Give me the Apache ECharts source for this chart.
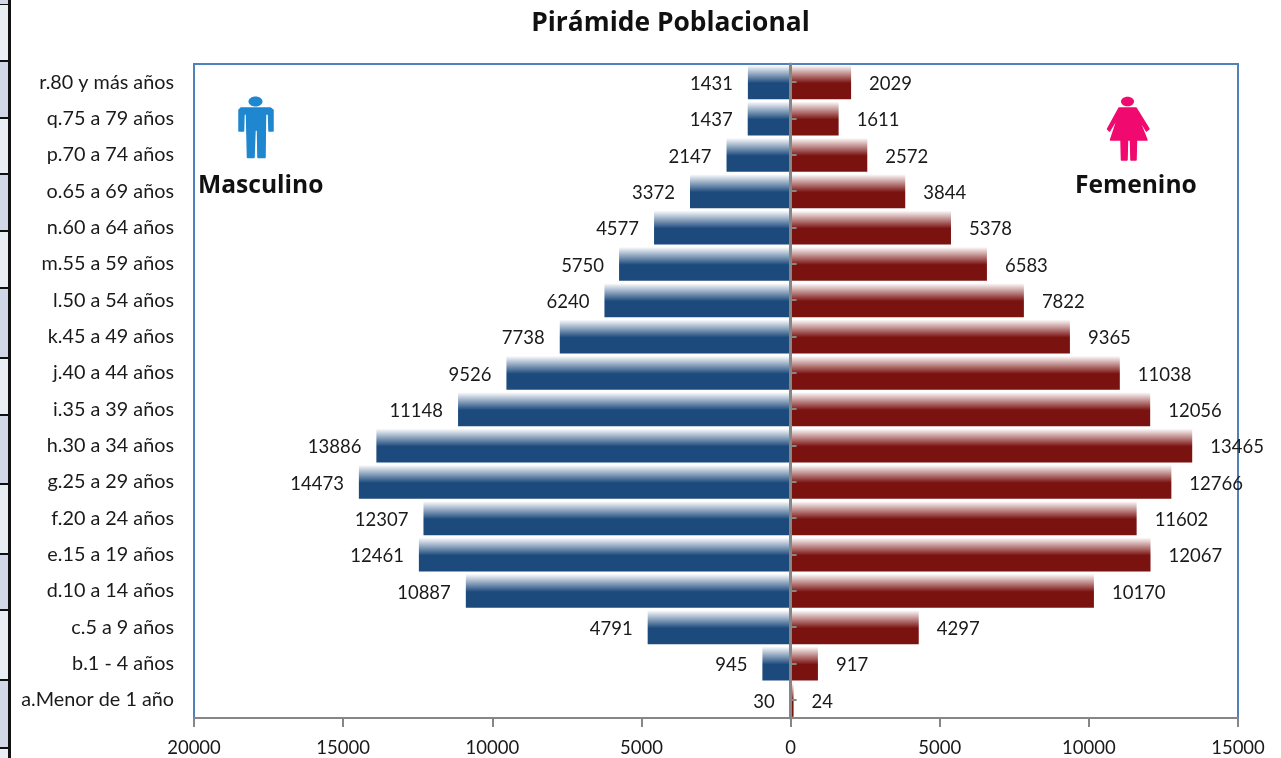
<!DOCTYPE html>
<html><head><meta charset="utf-8">
<style>html,body{margin:0;padding:0;background:#fff}#c{width:1281px;height:758px}</style>
<script src="https://cdn.jsdelivr.net/npm/echarts@6/dist/echarts.min.js"></script>
</head><body><div id="c"></div>
<script>
const categories = ['a.Menor de 1 año','b.1 - 4 años','c.5 a 9 años','d.10 a 14 años','e.15 a 19 años','f.20 a 24 años','g.25 a 29 años','h.30 a 34 años','i.35 a 39 años','j.40 a 44 años','k.45 a 49 años','l.50 a 54 años','m.55 a 59 años','n.60 a 64 años','o.65 a 69 años','p.70 a 74 años','q.75 a 79 años','r.80 y más años'];
const masculino = [30,945,4791,10887,12461,12307,14473,13886,11148,9526,7738,6240,5750,4577,3372,2147,1437,1431];
const femenino = [24,917,4297,10170,12067,11602,12766,13465,12056,11038,9365,7822,6583,5378,3844,2572,1611,2029];
const titleText = 'Pirámide Poblacional';
const font = 'Lato';
const boldFont = '"Open Sans"';
const chart = echarts.init(document.getElementById('c'), null, {renderer:'canvas'});
const grad = c => new echarts.graphic.LinearGradient(0,0,0,1,[{offset:0,color:'#ffffff'},{offset:0.53,color:c},{offset:1,color:c}]);
const abs = p => Math.abs(p.value);
const blue='#1F87CF', pink='#F0096E';
function poly(points,fill){return {type:'polygon',shape:{points},style:{fill,stroke:fill,lineWidth:1.5,lineJoin:'round'},silent:true,z:5};}
const stripEdges=[4,61,118,174,231,288,358,415,484,554,610,680,748,758];
const strip=[];
stripEdges.slice(0,-1).forEach((y,i)=>{
  strip.push({type:'rect',shape:{x:0,y:y,width:8,height:stripEdges[i+1]-y},style:{fill:i%2?'#D0D8E8':'#E9EDF4'},silent:true});
  strip.push({type:'rect',shape:{x:0,y:y-1,width:9,height:2},style:{fill:'#111'},silent:true});
});
strip.push({type:'rect',shape:{x:0,y:0,width:8,height:4},style:{fill:'#D0D8E8'},silent:true});
strip.push({type:'rect',shape:{x:8,y:0,width:3,height:758},style:{fill:'#111'},silent:true});
chart.setOption({
  animation:false,
  backgroundColor:'#fff',
  title:{text:titleText,left:665.5,top:5,textAlign:'center',textStyle:{fontFamily:boldFont,fontSize:26.4,fontWeight:'bold',color:'#111'}},
  grid:{left:194,right:43,top:64,bottom:40,show:true,borderColor:'#4F81BD',borderWidth:2,backgroundColor:'#fff'},
  xAxis:{type:'value',min:-20000,max:15000,interval:5000,position:'bottom',
    splitLine:{show:false},
    axisLine:{show:true,onZero:false,lineStyle:{color:'#868686',width:2}},
    axisTick:{show:true,length:9,lineStyle:{color:'#868686',width:2}},
    axisLabel:{margin:21,fontFamily:font,fontSize:18.5,color:'#1a1a1a',formatter:v=>String(Math.abs(v))}},
  yAxis:[
    {type:'category',data:categories,position:'left',
     axisLine:{show:false,onZero:false},axisTick:{show:false},
     axisLabel:{margin:20,fontFamily:font,fontSize:19.8,color:'#1a1a1a',interval:0,padding:[2,0,0,0]}},
    {type:'category',data:categories,position:'left',z:6,
     axisLine:{show:true,onZero:true,lineStyle:{color:'#868686',width:3}},
     axisTick:{show:true,inside:true,alignWithLabel:true,length:6,lineStyle:{color:'#868686',width:2}},
     axisLabel:{show:false}}
  ],
  series:[
    {name:'Masculino',type:'bar',yAxisIndex:0,data:masculino.map(v=>-v),barWidth:34,barGap:'-100%',
     itemStyle:{color:grad('#1C4A7D')},
     label:{show:true,position:'left',distance:15,offset:[0,2],formatter:abs,fontFamily:font,fontSize:18.5,color:'#1a1a1a'}},
    {name:'Femenino',type:'bar',yAxisIndex:0,data:femenino,barWidth:34,barGap:'-100%',barMinHeight:3,
     itemStyle:{color:grad('#7A1210')},
     label:{show:true,position:'right',distance:18,offset:[0,2],formatter:abs,fontFamily:font,fontSize:18.5,color:'#1a1a1a'}}
  ],
  graphic:[...strip,
    {type:'text',left:198,top:173,z:5,style:{text:'Masculino',font:'bold 24.6px '+boldFont,fill:'#111'}},
    {type:'text',left:1075,top:173,z:5,style:{text:'Femenino',font:'bold 24.6px '+boldFont,fill:'#111'}},
    {type:'ellipse',shape:{cx:255.5,cy:101.5,rx:7,ry:5},style:{fill:blue},silent:true,z:5},
    poly([[241,108],[270.5,108],[273,110],[273,131],[269,131],[268.5,114],[265.5,114],[265,157.5],[258,157.5],[257.5,130],[255,130],[254,157.5],[247.5,157.5],[246.5,114],[244,114],[243.5,131],[239,131],[239,110]],blue),
    {type:'ellipse',shape:{cx:1127.5,cy:101.5,rx:6.5,ry:4.8},style:{fill:pink},silent:true,z:5},
    poly([[1119,108],[1136,108],[1149,129],[1146.5,131],[1137.5,116],[1147,140],[1136.5,140],[1136,160],[1131,160],[1130.5,140],[1127.5,140],[1127,160],[1121.5,160],[1121,140],[1110.5,140],[1118.5,116],[1109.5,131],[1107.5,129]],pink)
  ]
});
</script></body></html>
